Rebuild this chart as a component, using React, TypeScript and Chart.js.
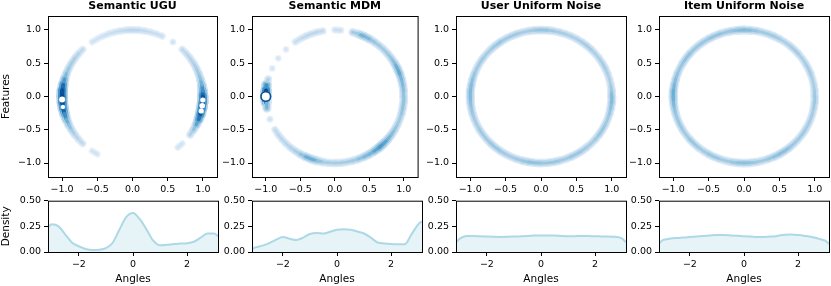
import React, { useEffect, useRef } from "react";
import { Chart, registerables } from "chart.js";
Chart.register(...registerables);

// ---------------- DATA ----------------
const TITLES = ["Semantic UGU", "Semantic MDM", "User Uniform Noise", "Item Uniform Noise"];

const FEATURE_TICKS = [-1, -0.5, 0, 0.5, 1];
const ANGLE_TICKS = [-2, 0, 2];
const DENSITY_TICKS = [0, 0.25, 0.5];

// angles (degrees) along which the 2-D feature density ring is sampled
const RING_ANGLES_DEG = [
  0, 5, 10, 15, 20, 25, 30, 35, 40, 45, 50, 55,
  60, 65, 70, 75, 80, 85, 90, 95, 100, 105, 110, 115,
  120, 125, 130, 135, 140, 145, 150, 155, 160, 165, 170, 175,
  180, 185, 190, 195, 200, 205, 210, 215, 220, 225, 230, 235,
  240, 245, 250, 255, 260, 265, 270, 275, 280, 285, 290, 295,
  300, 305, 310, 315, 320, 325, 330, 335, 340, 345, 350, 355,
  360,
];

// relative 2-D KDE intensity along the ring (0 = empty)
const UGU_RING = [
  0.85, 0.75, 0.6, 0.48, 0.42, 0.4, 0.35, 0.32, 0.3, 0.25, 0, 0.18,
  0, 0.2, 0.2, 0.22, 0.25, 0.28, 0.3, 0.28, 0.25, 0.22, 0.2, 0.18,
  0.15, 0.15, 0, 0.25, 0.3, 0.35, 0.38, 0.4, 0.45, 0.55, 0.75, 0.88,
  0.92, 0.92, 0.88, 0.78, 0.6, 0.5, 0.42, 0.35, 0.3, 0.25, 0, 0.15,
  0.15, 0, 0, 0, 0, 0, 0, 0, 0, 0, 0, 0,
  0, 0, 0.15, 0.15, 0, 0.3, 0.4, 0.5, 0.7, 0.85, 0.92, 0.92,
  0.85,
];
const MDM_RING = [
  0.45, 0.45, 0.5, 0.5, 0.55, 0.6, 0.5, 0.45, 0.42, 0.4, 0.4, 0.42,
  0.45, 0.55, 0.5, 0.3, 0, 0.2, 0.2, 0, 0.25, 0.28, 0.3, 0.28,
  0.25, 0.2, 0, 0.15, 0, 0.15, 0, 0.15, 0, 0.2, 0.5, 0.85,
  1.0, 0.7, 0.35, 0, 0.2, 0, 0.25, 0.28, 0.3, 0.3, 0.32, 0.35,
  0.4, 0.5, 0.6, 0.5, 0.4, 0.38, 0.38, 0.4, 0.38, 0.4, 0.42, 0.5,
  0.5, 0.55, 0.65, 0.65, 0.55, 0.5, 0.45, 0.42, 0.4, 0.42, 0.45, 0.45,
  0.45,
];
const USER_RING = [
  0.5, 0.45, 0.38, 0.35, 0.36, 0.38, 0.4, 0.36, 0.35, 0.37, 0.4, 0.38,
  0.36, 0.35, 0.37, 0.38, 0.4, 0.42, 0.45, 0.42, 0.4, 0.38, 0.4, 0.42,
  0.4, 0.42, 0.44, 0.4, 0.38, 0.4, 0.42, 0.4, 0.42, 0.45, 0.48, 0.5,
  0.5, 0.48, 0.45, 0.42, 0.4, 0.38, 0.4, 0.42, 0.4, 0.42, 0.44, 0.42,
  0.4, 0.38, 0.4, 0.42, 0.44, 0.46, 0.44, 0.42, 0.44, 0.42, 0.4, 0.42,
  0.44, 0.42, 0.4, 0.38, 0.4, 0.42, 0.44, 0.42, 0.4, 0.42, 0.45, 0.48,
  0.5,
];
const ITEM_RING = [
  0.42, 0.4, 0.38, 0.36, 0.38, 0.4, 0.38, 0.36, 0.38, 0.4, 0.38, 0.36,
  0.38, 0.4, 0.42, 0.4, 0.42, 0.46, 0.5, 0.48, 0.44, 0.42, 0.44, 0.46,
  0.44, 0.42, 0.44, 0.42, 0.44, 0.46, 0.44, 0.42, 0.44, 0.46, 0.5, 0.54,
  0.56, 0.52, 0.48, 0.44, 0.42, 0.44, 0.42, 0.4, 0.42, 0.44, 0.42, 0.4,
  0.42, 0.44, 0.42, 0.4, 0.42, 0.44, 0.48, 0.45, 0.42, 0.4, 0.42, 0.44,
  0.46, 0.48, 0.44, 0.42, 0.4, 0.42, 0.4, 0.38, 0.4, 0.38, 0.4, 0.42,
  0.42,
];

// angles (degrees) of the density peaks that leave an unfilled (white) top contour
const UGU_HOLES = [182.5, 189, 357, 352, 347.5];
const MDM_HOLES = [180];
const USER_HOLES: number[] = [];
const ITEM_HOLES: number[] = [];

// 1-D angle density
const DENSITY_ANGLES = [
  -3.1416, -3.0, -2.75, -2.5, -2.25, -2.0, -1.75, -1.5, -1.25, -1.0, -0.75, -0.5, -0.25,
  0.0, 0.25, 0.5, 0.75, 1.0, 1.25, 1.5, 1.75, 2.0, 2.25, 2.5, 2.75, 3.0, 3.1416,
];
const UGU_DENSITY = [
  0.24, 0.27, 0.25, 0.17, 0.09, 0.056, 0.03, 0.02, 0.022, 0.037, 0.09, 0.22, 0.34,
  0.38, 0.32, 0.22, 0.11, 0.065, 0.07, 0.077, 0.083, 0.086, 0.1, 0.14, 0.18, 0.18, 0.155,
];
const MDM_DENSITY = [
  0.031, 0.046, 0.062, 0.086, 0.12, 0.145, 0.13, 0.117, 0.14, 0.176, 0.185, 0.18, 0.198,
  0.216, 0.222, 0.216, 0.2, 0.18, 0.14, 0.093, 0.083, 0.077, 0.075, 0.075, 0.17, 0.27, 0.3,
];
const USER_DENSITY = [
  0.094, 0.13, 0.155, 0.156, 0.153, 0.15, 0.148, 0.147, 0.148, 0.15, 0.153, 0.156, 0.16,
  0.162, 0.161, 0.16, 0.156, 0.153, 0.154, 0.156, 0.155, 0.153, 0.152, 0.15, 0.148, 0.13, 0.094,
];
const ITEM_DENSITY = [
  0.085, 0.115, 0.13, 0.137, 0.141, 0.145, 0.15, 0.156, 0.161, 0.165, 0.165, 0.162, 0.158,
  0.153, 0.15, 0.147, 0.147, 0.15, 0.158, 0.168, 0.17, 0.165, 0.157, 0.147, 0.13, 0.11, 0.08,
];

const RINGS = [UGU_RING, MDM_RING, USER_RING, ITEM_RING];
const HOLES = [UGU_HOLES, MDM_HOLES, USER_HOLES, ITEM_HOLES];
const DENSITIES = [UGU_DENSITY, MDM_DENSITY, USER_DENSITY, ITEM_DENSITY];

// ---------------- STYLE ----------------
const FONT = "'DejaVu Sans', 'Liberation Sans', sans-serif";
const TICK_FONT = { family: FONT, size: 9.5 };
const LABEL_FONT = { family: FONT, size: 10.5, lineHeight: 1.2 };
const TITLE_FONT = { family: FONT, size: 11, weight: "bold" as const, lineHeight: 1.2 };
const COL_LEFT = [48, 252, 456, 659];
const AREA_W = 170;
const HOLE_RADII = [[3, 2.2, 2.6, 2.8, 2.6], [4.8], [], []];
const HOLE_BORDER = [0, 1.6, 0, 0];

const BLUES = [
  [247, 251, 255], [222, 235, 247], [198, 219, 239], [158, 202, 225], [107, 174, 214],
  [66, 146, 198], [33, 113, 181], [8, 81, 156], [8, 48, 107],
];
function blues(t: number): string {
  const v = Math.max(0, Math.min(1, t)) * 8;
  const i = Math.min(7, Math.floor(v));
  const f = v - i;
  const a = BLUES[i], b = BLUES[i + 1];
  const c = a.map((x, k) => Math.round(x + (b[k] - x) * f));
  return `rgb(${c[0]},${c[1]},${c[2]})`;
}

// three stacked strokes give the soft KDE band: wide/light -> narrow/dark
const RING_LAYERS = [
  { order: 3, w0: 6, w1: 6, c0: 0.05, c1: 0.3 },
  { order: 2, w0: 4, w1: 4.5, c0: 0.1, c1: 0.6 },
  { order: 1, w0: 1.5, w1: 3, c0: 0.15, c1: 0.85 },
];
const shade = (t: number) => Math.pow(t, 1.5);

const fmt = (v: number, d: number) => v.toFixed(d).replace("-", "\u2212");

const framePlugin = {
  id: "frame",
  afterDatasetsDraw(chart: any) {
    const { ctx, chartArea: a } = chart;
    ctx.save();
    ctx.strokeStyle = "#000";
    ctx.lineWidth = 1;
    ctx.strokeRect(a.left + 0.5, a.top + 0.5, a.right - a.left, a.bottom - a.top);
    ctx.restore();
  },
};

const gridOpts = {
  display: true,
  drawOnChartArea: false,
  drawTicks: true,
  tickLength: 4,
  tickColor: "#000",
  tickWidth: 1,
  color: "#000",
};

function ringConfig(col: number, yW: number): any {
  const ring = RINGS[col];
  const n = ring.length;
  const isolated = (i: number) =>
    ring[i] > 0 && (i === 0 || !(ring[i - 1] > 0)) && (i === n - 1 || !(ring[i + 1] > 0));
  const pts = RING_ANGLES_DEG.map((d) => ({
    x: Math.cos((d * Math.PI) / 180),
    y: Math.sin((d * Math.PI) / 180),
  }));
  const datasets: any[] = RING_LAYERS.map((L) => ({
    data: pts,
    order: L.order,
    borderColor: "rgba(0,0,0,0)",
    borderWidth: L.w0,
    borderCapStyle: "round",
    borderJoinStyle: "round",
    fill: false,
    tension: 0,
    pointRadius: (c: any) => (isolated(c.dataIndex) ? (L.w0 + L.w1 * ring[c.dataIndex]) / 2 : 0),
    pointBackgroundColor: (c: any) => blues(L.c0 + L.c1 * shade(ring[c.dataIndex])),
    pointBorderWidth: 0,
    pointHoverRadius: 0,
    segment: {
      borderColor: (c: any) => {
        const a = ring[c.p0DataIndex], b = ring[c.p1DataIndex];
        if (!(a > 0 && b > 0)) return "rgba(0,0,0,0)";
        return blues(L.c0 + L.c1 * shade((a + b) / 2));
      },
      borderWidth: (c: any) => {
        const a = ring[c.p0DataIndex], b = ring[c.p1DataIndex];
        return L.w0 + (L.w1 * (a + b)) / 2;
      },
    },
  }));
  const holes = HOLES[col];
  if (holes.length) {
    datasets.push({
      data: holes.map((d) => ({ x: Math.cos((d * Math.PI) / 180), y: Math.sin((d * Math.PI) / 180) })),
      order: 0,
      showLine: false,
      pointRadius: HOLE_RADII[col],
      pointBackgroundColor: "#ffffff",
      pointBorderColor: "#0b4f93",
      pointBorderWidth: HOLE_BORDER[col],
      pointHoverRadius: 0,
    });
  }
  return {
    type: "line",
    data: { datasets },
    plugins: [framePlugin],
    options: {
      animation: false,
      responsive: false,
      events: [],
      layout: { padding: { top: 0, right: 2, bottom: 0, left: 0 } },
      plugins: {
        legend: { display: false },
        tooltip: { enabled: false },
        title: {
          display: true,
          fullSize: false,
          text: TITLES[col],
          color: "#000",
          font: TITLE_FONT,
          padding: { top: 0, bottom: 2.8 },
        },
      },
      scales: {
        x: {
          type: "linear",
          min: -1.2,
          max: 1.2,
          afterBuildTicks: (s: any) => { s.ticks = FEATURE_TICKS.map((v) => ({ value: v })); },
          afterFit: (s: any) => { s.height = 21; },
          ticks: { font: TICK_FONT, color: "#000", padding: 3, maxRotation: 0, autoSkip: false, callback: (v: any) => fmt(Number(v), 1) },
          grid: gridOpts,
          border: { display: false },
        },
        y: {
          type: "linear",
          min: -1.21,
          max: 1.21,
          afterBuildTicks: (s: any) => { s.ticks = FEATURE_TICKS.map((v) => ({ value: v })); },
          afterFit: (s: any) => { s.width = yW; },
          ticks: { font: TICK_FONT, color: "#000", padding: 3, autoSkip: false, callback: (v: any) => fmt(Number(v), 1) },
          grid: gridOpts,
          border: { display: false },
          title: { display: col === 0, text: "Features", color: "#000", font: LABEL_FONT, padding: { top: 0, bottom: 0 } },
        },
      },
    },
  };
}

function densityConfig(col: number, yW: number): any {
  const vals = DENSITIES[col];
  return {
    type: "line",
    data: {
      datasets: [
        {
          data: DENSITY_ANGLES.map((a, i) => ({ x: a, y: vals[i] })),
          borderColor: "#add8e6",
          borderWidth: 2,
          backgroundColor: "rgba(173,216,230,0.3)",
          fill: "origin",
          pointRadius: 0,
          pointHoverRadius: 0,
          cubicInterpolationMode: "monotone",
        },
      ],
    },
    plugins: [framePlugin],
    options: {
      animation: false,
      responsive: false,
      events: [],
      layout: { padding: { top: 6, right: 2, bottom: 0, left: 0 } },
      plugins: { legend: { display: false }, tooltip: { enabled: false } },
      scales: {
        x: {
          type: "linear",
          min: -Math.PI,
          max: Math.PI,
          afterBuildTicks: (s: any) => { s.ticks = ANGLE_TICKS.map((v) => ({ value: v })); },
          afterFit: (s: any) => { s.height = 34; },
          ticks: { font: TICK_FONT, color: "#000", padding: 3, maxRotation: 0, autoSkip: false, callback: (v: any) => fmt(Number(v), 0) },
          grid: gridOpts,
          border: { display: false },
          title: { display: true, text: "Angles", color: "#000", font: LABEL_FONT, padding: { top: 0, bottom: 0 } },
        },
        y: {
          type: "linear",
          min: 0,
          max: 0.5,
          afterBuildTicks: (s: any) => { s.ticks = DENSITY_TICKS.map((v) => ({ value: v })); },
          afterFit: (s: any) => { s.width = yW; },
          ticks: { font: TICK_FONT, color: "#000", padding: 3, autoSkip: false, callback: (v: any) => fmt(Number(v), 2) },
          grid: gridOpts,
          border: { display: false },
          title: { display: col === 0, text: "Density", color: "#000", font: LABEL_FONT, padding: { top: 0, bottom: 0 } },
        },
      },
    },
  };
}

const TOP_H = 198;
const BOT_TOP = 192;
const BOT_H = 94;

export default function App() {
  const topRefs = useRef<(HTMLCanvasElement | null)[]>([]);
  const botRefs = useRef<(HTMLCanvasElement | null)[]>([]);

  useEffect(() => {
    const charts: Chart[] = [];
    for (let c = 0; c < 4; c++) {
      const yW = c === 0 ? 48 : 34;
      const t = topRefs.current[c];
      const b = botRefs.current[c];
      if (t) charts.push(new Chart(t, ringConfig(c, yW)));
      if (b) charts.push(new Chart(b, densityConfig(c, yW)));
    }
    return () => charts.forEach((ch) => ch.destroy());
  }, []);

  const cols = [0, 1, 2, 3];
  return (
    <div style={{ position: "absolute", left: 0, top: 0, width: 831, height: 286, background: "#fff", overflow: "hidden" }}>
      {cols.map((c) => {
        const yW = c === 0 ? 48 : 34;
        const left = COL_LEFT[c] - yW;
        const w = yW + AREA_W + 2;
        return (
          <React.Fragment key={c}>
            <canvas
              ref={(el) => { topRefs.current[c] = el; }}
              width={w}
              height={TOP_H}
              style={{ position: "absolute", left, top: 0, width: w, height: TOP_H }}
            />
            <canvas
              ref={(el) => { botRefs.current[c] = el; }}
              width={w}
              height={BOT_H}
              style={{ position: "absolute", left, top: BOT_TOP, width: w, height: BOT_H }}
            />
          </React.Fragment>
        );
      })}
    </div>
  );
}
